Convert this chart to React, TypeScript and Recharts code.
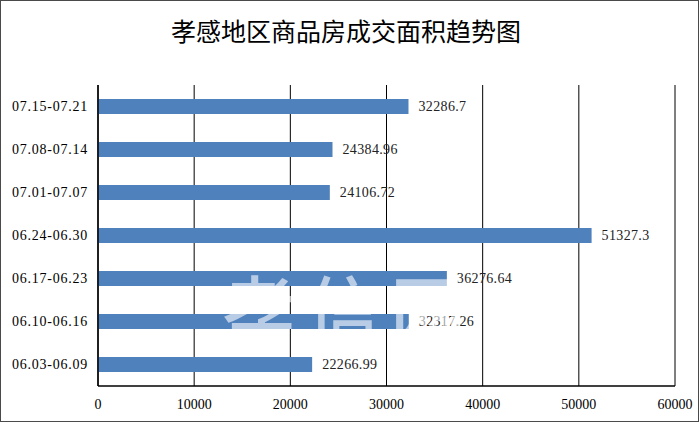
import React from 'react';
import { BarChart, Bar, XAxis, YAxis, CartesianGrid, LabelList } from 'recharts';

const categories = [
  '07.15-07.21',
  '07.08-07.14',
  '07.01-07.07',
  '06.24-06.30',
  '06.17-06.23',
  '06.10-06.16',
  '06.03-06.09',
];
const areas = [32286.7, 24384.96, 24106.72, 51327.3, 36276.64, 32317.26, 22266.99];
const xTicks = [0, 10000, 20000, 30000, 40000, 50000, 60000];
const title = '孝感地区商品房成交面积趋势图';
const watermark = '孝信网';

const data = categories.map((c, i) => ({ range: c, area: areas[i] }));

const numFont = '"Liberation Serif", "DejaVu Serif", serif';

export default function App() {
  return (
    <div
      style={{
        position: 'absolute',
        left: 0,
        top: 0,
        width: 700,
        height: 424,
        background: '#fff',
        overflow: 'hidden',
      }}
    >
      <div
        style={{
          position: 'absolute',
          left: 0,
          top: 0,
          width: 699,
          height: 422,
          boxSizing: 'border-box',
          border: '1.5px solid #4a4a4a',
        }}
      />
      <div
        style={{
          position: 'absolute',
          left: 0,
          top: 17,
          width: 692,
          textAlign: 'center',
          fontFamily: '"Noto Sans CJK SC", sans-serif',
          fontSize: 25,
          lineHeight: '26px',
          color: '#000',
        }}
      >
        {title}
      </div>
      <div style={{ position: 'absolute', left: 0, top: 0 }}>
        <BarChart
          width={700}
          height={424}
          data={data}
          layout="vertical"
          margin={{ top: 85, right: 25, bottom: 8, left: 0 }}
        >
          <CartesianGrid horizontal={false} vertical={true} stroke="#000" strokeWidth={1} />
          <XAxis
            type="number"
            domain={[0, 60000]}
            ticks={xTicks}
            interval={0}
            height={30}
            tickSize={0}
            tickMargin={13}
            axisLine={{ stroke: '#000', strokeWidth: 1.5 }}
            tick={{ fill: '#000', fontSize: 14, fontFamily: numFont }}
          />
          <XAxis
            xAxisId="top"
            orientation="top"
            type="number"
            domain={[0, 60000]}
            height={0}
            tick={false}
            tickLine={false}
            axisLine={{ stroke: '#000', strokeWidth: 1 }}
          />
          <YAxis
            type="category"
            dataKey="range"
            width={98}
            tickSize={0}
            tickMargin={10}
            interval={0}
            axisLine={{ stroke: '#000', strokeWidth: 1.5 }}
            tick={{ fill: '#000', fontSize: 14, fontFamily: numFont, letterSpacing: 0.75 }}
          />
          <YAxis
            yAxisId="r"
            orientation="right"
            type="category"
            dataKey="range"
            width={0}
            tick={false}
            tickLine={false}
            axisLine={{ stroke: '#000', strokeWidth: 1.5 }}
          />
          <Bar dataKey="area" fill="#4F81BD" barSize={15} isAnimationActive={false}>
            <LabelList
              dataKey="area"
              position="right"
              offset={10}
              fill="#222"
              fontSize={14}
              fontFamily={numFont}
              letterSpacing={0.35}
            />
          </Bar>
        </BarChart>
      </div>
      <div
        style={{
          position: 'absolute',
          left: 222,
          top: 266,
          fontFamily: '"Noto Sans CJK SC", sans-serif',
          fontSize: 74,
          fontWeight: 500,
          lineHeight: '80px',
          letterSpacing: 10,
          color: 'rgba(255,255,255,0.6)',
          pointerEvents: 'none',
          whiteSpace: 'nowrap',
        }}
      >
        {watermark}
      </div>
    </div>
  );
}
